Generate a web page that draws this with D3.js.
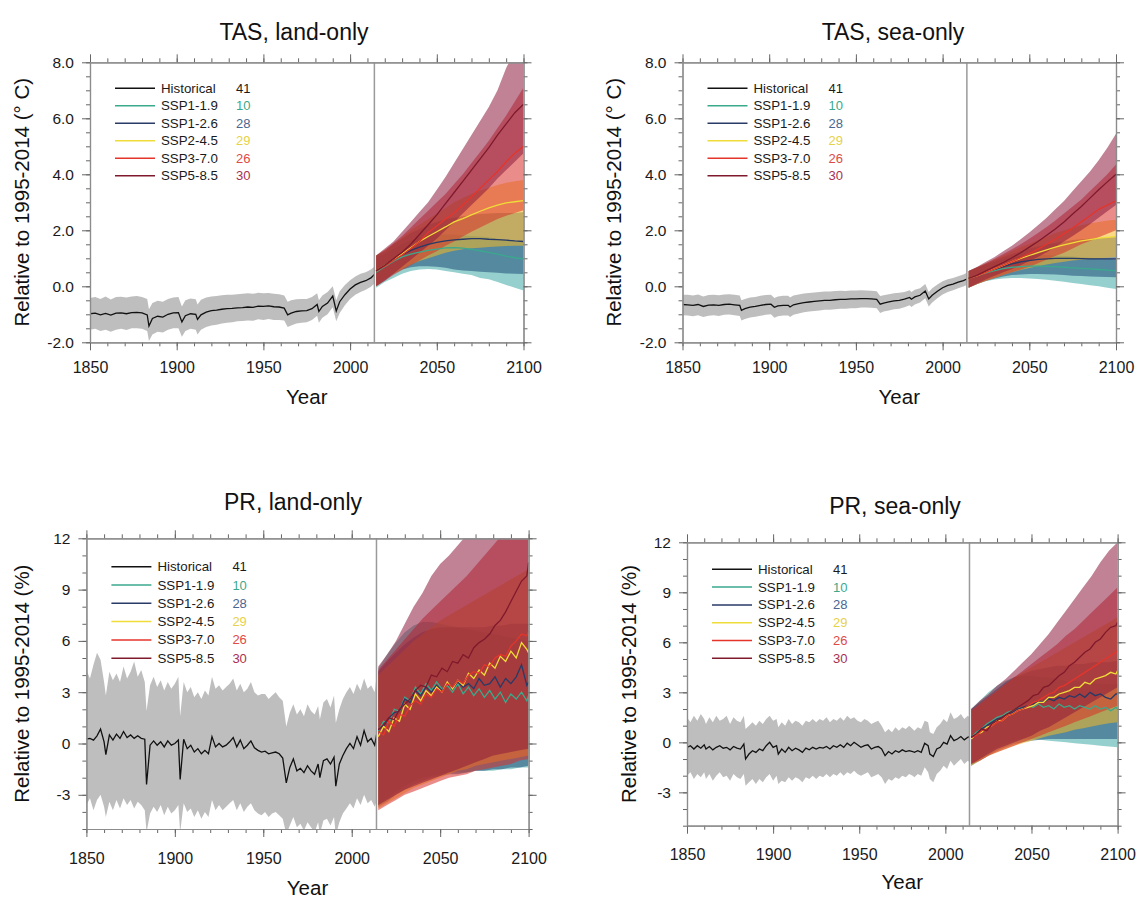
<!DOCTYPE html>
<html><head><meta charset="utf-8">
<script src="https://cdn.jsdelivr.net/npm/d3@7"></script>
<style>
body{margin:0;background:#fff;}
svg{display:block;}
text{font-family:"Liberation Sans",Arial,Helvetica,sans-serif;}
</style>
</head><body>
<svg id="chart" width="1139" height="898"></svg>
<script>
// ---------------- categories / labels ----------------
const scenarios = ["SSP1-1.9","SSP1-2.6","SSP2-4.5","SSP3-7.0","SSP5-8.5"];
const legendLabels = ["Historical","SSP1-1.9","SSP1-2.6","SSP2-4.5","SSP3-7.0","SSP5-8.5"];
const modelCounts = [41,10,28,29,26,30];
const xTicks = [1850,1900,1950,2000,2050,2100];
const tasYTicks = [-2,0,2,4,6,8];
const prYTicks = [-3,0,3,6,9,12];
const sspYears = [2015,2020,2025,2030,2035,2040,2045,2050,2055,2060,2065,2070,2075,2080,2085,2090,2095,2100];
const prLineYears = [2015,2018,2021,2024,2027,2030,2033,2036,2039,2042,
  2045,2048,2051,2054,2057,2060,2063,2066,2069,2072,
  2075,2078,2081,2084,2087,2090,2093,2096,2099,2100];

const tasHistYears = [1850,1853,1856,1859,1862,1865,1868,1871,1874,1877,
  1880,1883,1884,1886,1889,1892,1895,1898,1901,1903,
  1905,1908,1911,1912,1914,1917,1920,1923,1926,1929,
  1932,1935,1938,1941,1944,1947,1950,1953,1956,1959,
  1962,1964,1966,1969,1972,1975,1978,1981,1982,1984,
  1987,1990,1992,1994,1997,2000,2003,2006,2009,2012,
  2014];
const prHistYears = [1850,1852,1854,1856,1858,1860,1861,1863,1865,1867,
  1869,1871,1873,1875,1877,1879,1881,1883,1884,1886,
  1888,1890,1892,1894,1896,1898,1900,1902,1903,1905,
  1907,1909,1911,1913,1915,1917,1919,1921,1923,1925,
  1927,1929,1931,1933,1935,1937,1939,1941,1943,1945,
  1947,1949,1951,1953,1955,1957,1959,1961,1963,1965,
  1967,1969,1971,1973,1975,1977,1979,1981,1982,1984,
  1986,1988,1990,1991,1993,1995,1997,1999,2001,2003,
  2005,2007,2009,2011,2013,2014];

// ---------------- TAS land ----------------
const tasLandHistMean = [-0.98,-0.96,-1.02,-0.97,-1.03,-0.96,-0.95,-0.98,-0.94,-0.93,
  -0.95,-1.02,-1.42,-1.15,-1.07,-1.1,-1.0,-0.95,-0.94,-1.27,
  -1.05,-0.98,-1.0,-1.18,-1.02,-0.92,-0.87,-0.85,-0.82,-0.8,
  -0.79,-0.77,-0.76,-0.74,-0.75,-0.71,-0.72,-0.7,-0.73,-0.74,
  -0.78,-1.02,-0.96,-0.9,-0.88,-0.87,-0.8,-0.65,-0.9,-0.72,
  -0.6,-0.35,-0.88,-0.55,-0.3,-0.1,0.05,0.14,0.2,0.3,
  0.42];
const tasLandHistHi = [-0.42,-0.38,-0.45,-0.36,-0.47,-0.38,-0.37,-0.4,-0.36,-0.35,
  -0.38,-0.45,-0.82,-0.6,-0.52,-0.55,-0.45,-0.4,-0.38,-0.72,
  -0.5,-0.44,-0.46,-0.65,-0.48,-0.4,-0.36,-0.35,-0.32,-0.3,
  -0.3,-0.28,-0.27,-0.25,-0.27,-0.23,-0.25,-0.24,-0.27,-0.28,
  -0.33,-0.55,-0.5,-0.46,-0.45,-0.45,-0.38,-0.25,-0.5,-0.33,
  -0.2,0.0,-0.5,-0.18,0.05,0.22,0.35,0.45,0.5,0.6,
  0.7];
const tasLandHistLo = [-1.55,-1.52,-1.6,-1.55,-1.62,-1.55,-1.52,-1.56,-1.5,-1.5,
  -1.52,-1.6,-1.95,-1.72,-1.62,-1.65,-1.55,-1.5,-1.5,-1.8,
  -1.6,-1.52,-1.55,-1.72,-1.55,-1.45,-1.4,-1.37,-1.33,-1.3,
  -1.28,-1.25,-1.24,-1.22,-1.23,-1.18,-1.2,-1.17,-1.2,-1.2,
  -1.22,-1.45,-1.4,-1.33,-1.3,-1.28,-1.2,-1.05,-1.3,-1.12,
  -1.0,-0.75,-1.25,-0.95,-0.68,-0.45,-0.3,-0.2,-0.12,-0.02,
  0.1];
const tasLandSspMean = [
  [0.5,0.7,0.9,1.05,1.15,1.22,1.28,1.33,1.37,1.38,1.36,1.32,1.27,1.21,1.15,1.08,1.02,0.98],
  [0.55,0.75,0.95,1.12,1.28,1.4,1.5,1.57,1.62,1.66,1.68,1.7,1.7,1.68,1.67,1.65,1.62,1.6],
  [0.55,0.75,0.95,1.15,1.38,1.6,1.78,1.95,2.12,2.3,2.42,2.55,2.68,2.8,2.9,2.98,3.02,3.06],
  [0.55,0.72,0.92,1.12,1.35,1.6,1.92,2.15,2.4,2.62,2.9,3.2,3.5,3.8,4.1,4.45,4.75,5.0],
  [0.55,0.75,0.98,1.22,1.5,1.85,2.2,2.55,2.95,3.35,3.75,4.15,4.55,4.95,5.4,5.8,6.2,6.5]];
const tasLandSspHi = [
  [1.05,1.15,1.35,1.5,1.65,1.75,1.8,1.85,1.85,1.85,1.82,1.8,1.78,1.75,1.7,1.65,1.62,1.6],
  [1.1,1.25,1.5,1.7,1.9,2.05,2.2,2.3,2.4,2.45,2.5,2.55,2.58,2.6,2.62,2.62,2.62,2.65],
  [1.1,1.3,1.5,1.75,2.0,2.2,2.4,2.6,2.8,3.0,3.15,3.3,3.42,3.52,3.62,3.7,3.75,3.8],
  [1.1,1.3,1.55,1.8,2.1,2.4,2.7,3.0,3.3,3.65,4.0,4.4,4.8,5.2,5.65,6.1,6.6,7.1],
  [1.1,1.35,1.6,1.95,2.3,2.65,3.0,3.45,3.9,4.4,4.9,5.4,5.9,6.4,7.0,7.8,8.4,8.9]];
const tasLandSspLo = [
  [-0.05,0.15,0.3,0.45,0.55,0.6,0.62,0.6,0.55,0.5,0.45,0.4,0.3,0.25,0.15,0.05,-0.05,-0.15],
  [0.0,0.25,0.45,0.6,0.68,0.72,0.72,0.7,0.66,0.6,0.56,0.55,0.52,0.5,0.48,0.46,0.45,0.44],
  [0.0,0.25,0.45,0.62,0.78,0.9,1.0,1.1,1.2,1.27,1.32,1.36,1.38,1.4,1.42,1.44,1.45,1.45],
  [0.0,0.2,0.4,0.58,0.75,0.92,1.1,1.25,1.45,1.6,1.78,1.95,2.1,2.25,2.4,2.52,2.62,2.72],
  [0.0,0.2,0.45,0.7,0.95,1.2,1.45,1.7,2.0,2.3,2.6,2.9,3.2,3.5,3.85,4.15,4.45,4.75]];

// ---------------- TAS sea ----------------
const tasSeaHistMean = [-0.65,-0.66,-0.68,-0.65,-0.72,-0.67,-0.66,-0.68,-0.65,-0.64,
  -0.66,-0.68,-0.86,-0.8,-0.74,-0.72,-0.68,-0.65,-0.64,-0.75,
  -0.7,-0.68,-0.68,-0.74,-0.66,-0.62,-0.58,-0.56,-0.54,-0.52,
  -0.5,-0.5,-0.48,-0.47,-0.47,-0.45,-0.45,-0.44,-0.44,-0.45,
  -0.47,-0.64,-0.6,-0.56,-0.52,-0.5,-0.46,-0.4,-0.46,-0.38,
  -0.32,-0.17,-0.45,-0.32,-0.18,-0.05,0.03,0.08,0.15,0.2,
  0.26];
const tasSeaHistHi = [-0.3,-0.3,-0.33,-0.29,-0.36,-0.31,-0.3,-0.32,-0.29,-0.28,
  -0.3,-0.33,-0.5,-0.45,-0.4,-0.38,-0.34,-0.31,-0.3,-0.42,
  -0.36,-0.34,-0.34,-0.4,-0.33,-0.29,-0.26,-0.24,-0.22,-0.2,
  -0.19,-0.19,-0.17,-0.16,-0.17,-0.15,-0.15,-0.14,-0.15,-0.16,
  -0.18,-0.35,-0.32,-0.28,-0.25,-0.23,-0.2,-0.14,-0.2,-0.12,
  -0.07,0.08,-0.2,-0.07,0.06,0.18,0.25,0.3,0.36,0.42,
  0.48];
const tasSeaHistLo = [-1.03,-1.04,-1.07,-1.03,-1.1,-1.05,-1.03,-1.06,-1.02,-1.01,
  -1.03,-1.06,-1.22,-1.17,-1.11,-1.09,-1.05,-1.02,-1.0,-1.12,
  -1.07,-1.04,-1.04,-1.1,-1.02,-0.97,-0.93,-0.9,-0.88,-0.86,
  -0.84,-0.84,-0.82,-0.8,-0.8,-0.78,-0.78,-0.76,-0.76,-0.77,
  -0.78,-0.95,-0.9,-0.86,-0.82,-0.8,-0.75,-0.68,-0.74,-0.65,
  -0.58,-0.43,-0.72,-0.58,-0.43,-0.29,-0.2,-0.14,-0.07,-0.01,
  0.05];
const tasSeaSspMean = [
  [0.28,0.38,0.48,0.56,0.63,0.68,0.7,0.72,0.72,0.71,0.7,0.68,0.66,0.64,0.62,0.6,0.58,0.56],
  [0.28,0.38,0.5,0.6,0.7,0.8,0.87,0.92,0.96,0.98,1.0,1.0,1.0,0.99,0.98,0.98,0.98,0.98],
  [0.28,0.38,0.5,0.62,0.75,0.88,1.0,1.1,1.2,1.3,1.4,1.48,1.55,1.62,1.67,1.72,1.75,1.78],
  [0.28,0.38,0.5,0.62,0.75,0.88,1.02,1.17,1.33,1.5,1.68,1.88,2.08,2.3,2.52,2.75,2.9,3.05],
  [0.28,0.4,0.55,0.7,0.85,1.02,1.2,1.4,1.6,1.82,2.05,2.3,2.58,2.85,3.15,3.45,3.73,4.0]];
const tasSeaSspHi = [
  [0.55,0.65,0.78,0.88,0.98,1.05,1.1,1.12,1.13,1.12,1.1,1.08,1.06,1.04,1.02,1.0,0.98,0.96],
  [0.55,0.68,0.8,0.92,1.05,1.15,1.25,1.35,1.42,1.5,1.55,1.6,1.65,1.68,1.7,1.72,1.74,1.75],
  [0.55,0.68,0.82,0.96,1.1,1.25,1.4,1.52,1.65,1.78,1.9,2.0,2.1,2.18,2.25,2.3,2.35,2.38],
  [0.55,0.68,0.82,0.98,1.15,1.32,1.5,1.7,1.9,2.12,2.35,2.6,2.85,3.1,3.4,3.7,4.0,4.35],
  [0.55,0.7,0.88,1.05,1.25,1.45,1.68,1.92,2.18,2.45,2.75,3.05,3.4,3.75,4.1,4.5,4.95,5.45]];
const tasSeaSspLo = [
  [-0.05,0.08,0.18,0.24,0.28,0.3,0.3,0.28,0.26,0.23,0.2,0.16,0.12,0.08,0.04,0.0,-0.05,-0.1],
  [-0.05,0.08,0.2,0.28,0.35,0.4,0.42,0.44,0.44,0.43,0.42,0.4,0.38,0.37,0.35,0.34,0.33,0.32],
  [-0.05,0.08,0.2,0.3,0.4,0.5,0.58,0.65,0.72,0.78,0.83,0.88,0.92,0.95,0.98,1.0,1.02,1.05],
  [-0.05,0.08,0.2,0.3,0.4,0.5,0.6,0.7,0.82,0.95,1.08,1.2,1.35,1.5,1.62,1.75,1.88,2.0],
  [-0.05,0.1,0.25,0.38,0.5,0.62,0.75,0.9,1.05,1.22,1.4,1.6,1.8,2.0,2.22,2.45,2.68,2.9]];

// ---------------- PR land ----------------
const prLandHistMean = [0.25,0.3,0.2,0.45,0.85,0.1,-0.65,0.5,0.2,0.55,
  0.3,0.7,0.35,0.5,0.3,0.45,0.3,0.25,-2.4,-0.1,
  0.15,-0.1,0.1,-0.2,0.15,-0.1,0.0,0.2,-2.1,0.25,
  -0.3,-0.1,-0.5,-0.3,-0.6,-0.4,-0.6,0.4,-0.2,0.0,
  -0.2,-0.1,0.1,0.35,-0.2,0.2,-0.3,-0.1,0.15,-0.25,
  -0.4,-0.5,-0.45,-0.6,-0.55,-0.5,-0.6,-0.85,-2.3,-1.4,
  -0.9,-1.6,-1.45,-1.7,-1.3,-1.6,-1.8,-1.2,-2.0,-1.0,
  -0.9,-1.2,-0.8,-2.5,-1.2,-0.7,-0.3,0.0,-0.3,0.4,
  -0.1,0.75,0.1,0.3,-0.1,0.5];
const prLandHistHi = [4.3,3.8,4.6,5.3,4.9,3.6,2.8,4.2,3.7,4.1,
  3.6,4.5,3.8,4.2,4.8,3.9,4.3,3.6,1.9,3.4,
  3.9,3.3,3.7,3.1,3.6,3.2,3.5,3.9,1.6,3.6,
  3.0,3.3,2.7,3.0,2.6,3.1,2.8,3.9,3.2,3.4,
  3.1,3.3,3.5,3.8,3.1,3.5,3.0,3.2,3.6,3.0,
  2.8,2.9,2.9,2.6,2.8,3.0,2.7,2.5,1.0,1.8,
  2.3,1.7,2.0,1.6,2.3,1.9,1.7,2.2,1.4,2.4,
  2.6,2.1,2.8,1.2,2.0,2.6,3.0,3.3,2.9,3.5,
  3.1,3.8,3.2,3.4,3.0,3.9];
const prLandHistLo = [-3.6,-3.2,-3.9,-3.3,-3.0,-3.7,-4.3,-3.4,-3.9,-3.3,
  -3.8,-3.2,-3.6,-3.3,-3.8,-3.4,-3.6,-3.9,-5.2,-4.1,
  -3.7,-4.0,-3.6,-4.2,-3.7,-4.1,-3.9,-3.6,-5.2,-3.5,
  -4.0,-3.8,-4.3,-3.9,-4.4,-4.0,-4.3,-3.3,-3.9,-3.6,
  -3.9,-3.7,-3.5,-3.3,-3.9,-3.5,-4.0,-3.7,-3.5,-3.9,
  -4.1,-4.2,-4.0,-4.3,-4.1,-4.0,-4.2,-4.4,-5.3,-4.8,
  -4.3,-4.9,-4.7,-5.1,-4.6,-4.9,-5.2,-4.6,-5.3,-4.5,
  -4.4,-4.8,-4.3,-5.4,-4.6,-4.1,-3.8,-3.5,-3.8,-3.2,
  -3.6,-3.0,-3.5,-3.3,-3.7,-3.4];
const prLandSspMean = [
  [0.7,1.3,1.2,2.0,1.9,2.7,2.5,3.3,2.9,3.5,3.1,3.6,3.2,3.4,3.0,3.5,2.9,3.3,2.8,3.2,2.7,3.1,2.6,3.0,2.4,2.9,2.6,3.0,2.5,2.8],
  [0.8,1.0,1.5,1.8,1.9,2.6,2.4,3.1,2.8,3.3,3.0,3.4,3.1,3.5,3.2,3.6,3.3,3.5,3.2,3.8,3.4,3.5,3.9,3.3,3.8,3.5,3.9,4.6,3.4,3.6],
  [0.4,1.0,0.7,1.5,1.3,2.3,2.0,2.9,2.5,3.1,2.8,3.3,3.0,3.6,3.2,3.7,3.4,4.1,3.8,4.3,4.0,4.7,4.4,5.1,4.8,5.4,5.0,5.9,5.5,5.3],
  [0.7,0.5,1.3,1.0,1.7,1.6,2.2,2.5,2.3,2.9,2.7,3.2,3.0,3.5,3.3,3.7,3.5,4.0,4.2,4.1,4.6,4.5,5.0,5.2,5.1,5.7,6.0,6.4,6.3,6.6],
  [0.8,1.1,1.5,1.4,2.0,2.3,2.6,3.1,3.4,3.3,4.0,3.9,4.4,4.2,4.8,4.7,5.2,5.0,5.6,5.9,6.1,6.4,6.9,7.2,7.7,8.3,8.9,9.5,9.8,10.6]];
const prLandSspHi = [
  [4.4,5.2,5.9,6.5,6.9,7.1,7.1,7.0,6.9,6.8,6.7,6.6,6.5,6.4,6.3,6.2,6.1,6.0],
  [4.2,4.8,5.3,5.8,6.2,6.5,6.7,6.8,6.8,6.8,6.8,6.8,6.8,6.9,6.9,7.0,7.0,7.0],
  [4.0,4.5,5.0,5.5,6.0,6.4,6.8,7.2,7.5,7.8,8.1,8.4,8.7,9.0,9.3,9.6,9.9,10.2],
  [4.3,4.9,5.5,6.1,6.7,7.3,7.8,8.3,8.8,9.3,9.8,10.4,11.0,11.6,12.2,12.7,13.2,13.6],
  [4.5,5.2,6.0,7.0,8.0,8.8,9.8,10.5,11.0,11.6,12.2,12.5,12.8,13.1,13.4,13.7,14.0,14.3]];
const prLandSspLo = [
  [-3.6,-3.2,-2.8,-2.5,-2.2,-2.0,-1.9,-1.8,-1.7,-1.7,-1.7,-1.6,-1.6,-1.6,-1.5,-1.5,-1.4,-1.4],
  [-3.7,-3.4,-3.0,-2.7,-2.4,-2.2,-2.0,-1.9,-1.8,-1.8,-1.7,-1.6,-1.6,-1.5,-1.5,-1.4,-1.4,-1.3],
  [-3.8,-3.5,-3.2,-2.9,-2.6,-2.4,-2.2,-2.0,-1.8,-1.6,-1.5,-1.3,-1.2,-1.1,-1.0,-0.9,-0.8,-0.7],
  [-3.9,-3.6,-3.3,-3.0,-2.8,-2.6,-2.4,-2.2,-2.0,-1.9,-1.8,-1.6,-1.5,-1.4,-1.3,-1.2,-1.0,-0.9],
  [-3.6,-3.3,-3.0,-2.7,-2.5,-2.3,-2.1,-1.9,-1.7,-1.5,-1.3,-1.1,-0.9,-0.7,-0.6,-0.5,-0.4,-0.3]];

// ---------------- PR sea ----------------
const prSeaHistMean = [-0.3,-0.2,-0.4,-0.2,-0.35,-0.15,-0.4,-0.25,-0.45,-0.3,
  -0.2,-0.35,-0.3,-0.45,-0.25,-0.35,-0.4,-0.1,-1.0,-0.7,
  -0.5,-0.6,-0.4,-0.5,-0.2,0.0,-0.3,-0.2,-0.7,-0.4,
  -0.6,-0.3,-0.5,-0.35,-0.45,-0.6,-0.35,-0.45,-0.3,-0.4,
  -0.3,-0.35,-0.25,-0.4,-0.2,-0.3,-0.15,-0.3,-0.05,-0.2,
  0.0,-0.15,-0.3,-0.2,-0.15,-0.4,-0.3,-0.25,-0.4,-0.8,
  -0.55,-0.7,-0.5,-0.6,-0.45,-0.55,-0.5,-0.55,-0.6,-0.5,
  -0.6,-0.05,-0.2,-0.7,-0.85,-0.4,-0.3,0.0,-0.1,0.4,
  0.1,0.2,0.35,0.15,0.3,0.35];
const prSeaHistHi = [1.5,1.2,1.6,1.3,1.7,1.4,1.1,1.5,1.2,1.6,
  1.3,1.4,1.6,1.1,1.5,1.3,1.2,1.6,0.8,1.0,
  1.2,1.0,1.3,1.1,1.4,1.6,1.3,1.4,0.9,1.2,
  1.0,1.4,1.1,1.3,1.2,1.0,1.3,1.2,1.4,1.2,
  1.4,1.3,1.5,1.2,1.4,1.3,1.5,1.3,1.6,1.4,
  1.5,1.3,1.2,1.4,1.3,1.1,1.2,1.3,1.0,0.6,
  0.8,0.6,0.9,0.7,0.9,0.8,1.0,0.8,0.7,0.9,
  0.8,1.3,1.2,0.6,0.5,0.9,1.1,1.4,1.2,1.8,
  1.4,1.5,1.7,1.4,1.6,1.5];
const prSeaHistLo = [-2.0,-1.8,-2.2,-1.9,-2.1,-1.8,-2.2,-1.9,-2.3,-2.0,
  -1.8,-2.1,-2.0,-2.3,-1.9,-2.1,-2.2,-1.9,-2.6,-2.4,
  -2.2,-2.5,-2.2,-2.4,-2.1,-1.9,-2.3,-2.0,-2.5,-2.3,
  -2.4,-2.1,-2.3,-2.1,-2.2,-2.4,-2.1,-2.2,-2.0,-2.2,
  -2.0,-2.1,-1.9,-2.1,-1.9,-2.0,-1.8,-2.0,-1.8,-1.9,
  -1.7,-1.9,-2.0,-1.9,-1.8,-2.1,-2.0,-1.9,-2.1,-2.5,
  -2.2,-2.3,-2.1,-2.2,-2.0,-2.1,-1.9,-2.0,-2.1,-1.9,
  -2.0,-1.5,-1.8,-2.2,-2.4,-1.9,-1.7,-1.4,-1.6,-1.1,
  -1.4,-1.2,-1.0,-1.3,-1.1,-1.2];
const prSeaSspMean = [
  [0.3,0.6,0.8,1.1,1.3,1.5,1.6,1.8,1.9,2.1,2.0,2.2,2.1,2.3,2.1,2.2,2.0,2.3,2.1,2.2,2.0,2.2,2.1,2.0,2.2,2.0,2.1,1.9,2.1,2.0],
  [0.3,0.5,0.8,1.0,1.2,1.4,1.5,1.7,1.8,2.0,2.1,2.2,2.3,2.5,2.4,2.6,2.5,2.7,2.6,2.8,2.7,2.9,2.7,3.0,2.8,2.9,2.7,2.6,2.9,2.9],
  [0.2,0.5,0.6,0.9,1.0,1.3,1.3,1.6,1.7,1.9,2.0,2.1,2.2,2.4,2.4,2.7,2.7,2.9,3.0,3.1,3.3,3.3,3.6,3.5,3.8,3.9,4.0,4.2,4.1,4.3],
  [0.3,0.4,0.7,0.8,1.0,1.2,1.3,1.6,1.7,1.9,2.0,2.2,2.4,2.5,2.7,2.9,3.0,3.3,3.4,3.6,3.8,4.0,4.2,4.4,4.6,4.8,5.0,5.2,5.4,5.5],
  [0.3,0.5,0.8,0.7,1.1,1.3,1.5,1.7,1.9,2.1,2.3,2.5,2.8,2.9,3.3,3.4,3.7,4.0,4.2,4.6,4.8,5.1,5.4,5.6,6.0,6.2,6.6,6.9,7.0,7.2]];
const prSeaSspHi = [
  [2.0,2.5,3.0,3.4,3.7,3.9,4.0,4.0,3.9,3.9,3.8,3.7,3.7,3.6,3.6,3.5,3.5,3.5],
  [2.0,2.4,2.8,3.2,3.6,3.9,4.1,4.3,4.4,4.5,4.6,4.6,4.7,4.7,4.8,4.8,4.8,4.9],
  [1.9,2.3,2.7,3.1,3.5,3.9,4.2,4.5,4.8,5.1,5.4,5.7,6.0,6.3,6.6,6.9,7.2,7.5],
  [1.9,2.3,2.7,3.1,3.5,3.9,4.3,4.7,5.1,5.5,5.9,6.4,6.8,7.3,7.8,8.3,8.8,9.3],
  [2.0,2.5,2.9,3.4,3.8,4.3,4.8,5.3,5.9,6.5,7.2,7.9,8.6,9.3,10.0,10.8,11.5,12.0]];
const prSeaSspLo = [
  [-1.4,-1.0,-0.6,-0.3,-0.1,0.1,0.2,0.2,0.15,0.1,0.05,0.0,-0.05,-0.1,-0.15,-0.2,-0.25,-0.3],
  [-1.4,-1.1,-0.8,-0.5,-0.3,-0.1,0.0,0.1,0.15,0.2,0.2,0.2,0.2,0.2,0.2,0.2,0.2,0.2],
  [-1.4,-1.1,-0.8,-0.6,-0.4,-0.2,-0.05,0.1,0.25,0.4,0.5,0.6,0.75,0.85,0.95,1.05,1.15,1.2],
  [-1.3,-1.1,-0.8,-0.6,-0.4,-0.2,0.0,0.2,0.4,0.6,0.8,1.0,1.2,1.4,1.6,1.8,2.0,2.2],
  [-1.3,-1.0,-0.7,-0.4,-0.2,0.0,0.2,0.4,0.7,0.9,1.2,1.5,1.8,2.1,2.4,2.7,3.0,3.3]];

// ---------------- styles ----------------
const lineColors = ["#3aa98c","#283a66","#f0dc38","#e5352b","#7e1a2c"];
const bandColors = ["#3fa9a5","#1f4f7a","#f5b820","#d9302a","#8c1c3c"];
const bandOpacity = 0.55;
const countColors = ["#1a1a1a","#3aa98c","#4a6590","#e6d24a","#e04a45","#a83050"];
const histLineColor = "#111";
const histBandColor = "#bebebe";

const panels = [
  {id:"p1", title:"TAS, land-only", ylab:"Relative to 1995-2014 (° C)", yDomain:[-2,8], yTicks:tasYTicks, yMinorStep:0.5, fmt:d=>d.toFixed(1),
   histYears:tasHistYears, hMean:tasLandHistMean, hHi:tasLandHistHi, hLo:tasLandHistLo,
   lineYears:sspYears, sMean:tasLandSspMean, sHi:tasLandSspHi, sLo:tasLandSspLo,
   x0:90, x1:523.5, y0:62.3, y1:342.3, tx:294, ty:40, ylx:21, yearY:404, xPad:11.5, legY:26, legStep:17.5},
  {id:"p2", title:"TAS, sea-only", ylab:"Relative to 1995-2014 (° C)", yDomain:[-2,8], yTicks:tasYTicks, yMinorStep:0.5, fmt:d=>d.toFixed(1),
   histYears:tasHistYears, hMean:tasSeaHistMean, hHi:tasSeaHistHi, hLo:tasSeaHistLo,
   lineYears:sspYears, sMean:tasSeaSspMean, sHi:tasSeaSspHi, sLo:tasSeaSspLo,
   x0:682.5, x1:1116, y0:62.3, y1:342.3, tx:893, ty:40, ylx:613, yearY:404, xPad:11.5, legY:26, legStep:17.5},
  {id:"p3", title:"PR, land-only", ylab:"Relative to 1995-2014 (%)", yDomain:[-5,12], yTicks:prYTicks, yMinorStep:1, fmt:d=>String(d),
   histYears:prHistYears, hMean:prLandHistMean, hHi:prLandHistHi, hLo:prLandHistLo,
   lineYears:prLineYears, sMean:prLandSspMean, sHi:prLandSspHi, sLo:prLandSspLo,
   x0:86.4, x1:528.6, y0:538.3, y1:829, tx:293, ty:510, ylx:21, yearY:895, xPad:16, legY:28.4, legStep:18.3},
  {id:"p4", title:"PR, sea-only", ylab:"Relative to 1995-2014 (%)", yDomain:[-5,12], yTicks:prYTicks, yMinorStep:1, fmt:d=>String(d),
   histYears:prHistYears, hMean:prSeaHistMean, hHi:prSeaHistHi, hLo:prSeaHistLo,
   lineYears:prLineYears, sMean:prSeaSspMean, sHi:prSeaSspHi, sLo:prSeaSspLo,
   x0:687, x1:1117.6, y0:542.3, y1:825.7, tx:895, ty:514, ylx:628, yearY:889, xPad:15, legY:27, legStep:17.8}
];

const svg = d3.select("#chart");
const defs = svg.append("defs");

function drawPanel(p){
  const x = d3.scaleLinear().domain([1850,2100]).range([p.x0,p.x1]);
  const y = d3.scaleLinear().domain(p.yDomain).range([p.y1,p.y0]);
  defs.append("clipPath").attr("id","clip-"+p.id).append("rect")
    .attr("x",p.x0).attr("y",p.y0).attr("width",p.x1-p.x0).attr("height",p.y1-p.y0);
  const g = svg.append("g");
  const plot = g.append("g").attr("clip-path","url(#clip-"+p.id+")");

  const area = d3.area().x(d=>x(d.t)).y0(d=>y(d.lo)).y1(d=>y(d.hi));
  const line = d3.line().x(d=>x(d.t)).y(d=>y(d.v));

  const hist = p.histYears.map((t,i)=>({t, v:p.hMean[i], hi:p.hHi[i], lo:p.hLo[i]}));
  plot.append("path").datum(hist).attr("d",area).attr("fill",histBandColor);

  const bands = scenarios.map((s,k)=>sspYears.map((t,i)=>({t, hi:p.sHi[k][i], lo:p.sLo[k][i]})));
  bands.forEach((d,k)=>{
    plot.append("path").datum(d).attr("d",area).attr("fill",bandColors[k]).attr("fill-opacity",bandOpacity);
  });

  g.append("line").attr("x1",x(2014)).attr("x2",x(2014)).attr("y1",p.y0).attr("y2",p.y1)
    .attr("stroke","#9a9a9a").attr("stroke-width",1.5);

  plot.append("path").datum(hist).attr("d",line).attr("fill","none").attr("stroke",histLineColor).attr("stroke-width",1.3);
  const means = scenarios.map((s,k)=>p.lineYears.map((t,i)=>({t, v:p.sMean[k][i]})));
  means.forEach((d,k)=>{
    plot.append("path").datum(d).attr("d",line).attr("fill","none").attr("stroke",lineColors[k]).attr("stroke-width",1.3);
  });

  const xMinor = d3.range(1850,2101,10);
  const yMinor = d3.range(p.yDomain[0], p.yDomain[1]+1e-9, p.yMinorStep);
  const axStyle = (sel,fs)=>{
    sel.select(".domain").attr("stroke","#8c8c8c").attr("stroke-width",1.2);
    sel.selectAll(".tick line").attr("stroke","#666");
    sel.selectAll("text").attr("font-size",fs||"15px").attr("fill","#1a1a1a").attr("font-family","Liberation Sans, Arial, sans-serif");
  };
  g.append("g").attr("transform",`translate(0,${p.y1})`)
    .call(d3.axisBottom(x).tickValues(xMinor).tickSize(4).tickSizeOuter(0).tickFormat(""))
    .call(axStyle);
  g.append("g").attr("transform",`translate(0,${p.y1})`)
    .call(d3.axisBottom(x).tickValues(xTicks).tickSize(8).tickSizeOuter(0).tickPadding(p.xPad).tickFormat(d3.format("d")))
    .call(axStyle,"16px");
  g.append("g").attr("transform",`translate(0,${p.y0})`)
    .call(d3.axisTop(x).tickValues(xMinor).tickSize(4).tickSizeOuter(0).tickFormat(""))
    .call(axStyle);
  g.append("g").attr("transform",`translate(0,${p.y0})`)
    .call(d3.axisTop(x).tickValues(xTicks).tickSize(8).tickSizeOuter(0).tickFormat(""))
    .call(axStyle);
  g.append("g").attr("transform",`translate(${p.x0},0)`)
    .call(d3.axisLeft(y).tickValues(yMinor).tickSize(4).tickSizeOuter(0).tickFormat(""))
    .call(axStyle);
  g.append("g").attr("transform",`translate(${p.x0},0)`)
    .call(d3.axisLeft(y).tickValues(p.yTicks).tickSize(8).tickSizeOuter(0).tickPadding(8).tickFormat(p.fmt))
    .call(axStyle,"15.5px");
  g.append("g").attr("transform",`translate(${p.x1},0)`)
    .call(d3.axisRight(y).tickValues(yMinor).tickSize(4).tickSizeOuter(0).tickFormat(""))
    .call(axStyle);
  g.append("g").attr("transform",`translate(${p.x1},0)`)
    .call(d3.axisRight(y).tickValues(p.yTicks).tickSize(8).tickSizeOuter(0).tickFormat(""))
    .call(axStyle);

  g.append("text").attr("x",p.tx).attr("y",p.ty).attr("text-anchor","middle")
    .attr("font-size","23px").attr("fill","#111").text(p.title);
  g.append("text").attr("x",(p.x0+p.x1)/2).attr("y",p.yearY).attr("text-anchor","middle")
    .attr("font-size","20.5px").attr("fill","#111").text("Year");
  g.append("text").attr("transform",`translate(${p.ylx},${(p.y0+p.y1)/2}) rotate(-90)`)
    .attr("text-anchor","middle").attr("dominant-baseline","central")
    .attr("font-size","20.5px").attr("fill","#111").text(p.ylab);

  const leg = g.append("g");
  legendLabels.forEach((lab,i)=>{
    const yy = p.y0 + p.legY + i*p.legStep;
    const col = i===0 ? histLineColor : lineColors[i-1];
    leg.append("line").attr("x1",p.x0+25).attr("x2",p.x0+65).attr("y1",yy).attr("y2",yy)
      .attr("stroke",col).attr("stroke-width",1.5);
    leg.append("text").attr("x",p.x0+71).attr("y",yy).attr("dominant-baseline","central")
      .attr("font-size","13.3px").attr("fill","#1a1a1a").text(lab);
    leg.append("text").attr("x",p.x0+146).attr("y",yy).attr("dominant-baseline","central")
      .attr("font-size","13px").attr("fill",countColors[i]).text(modelCounts[i]);
  });
}
panels.forEach(drawPanel);
</script>
</body></html>
